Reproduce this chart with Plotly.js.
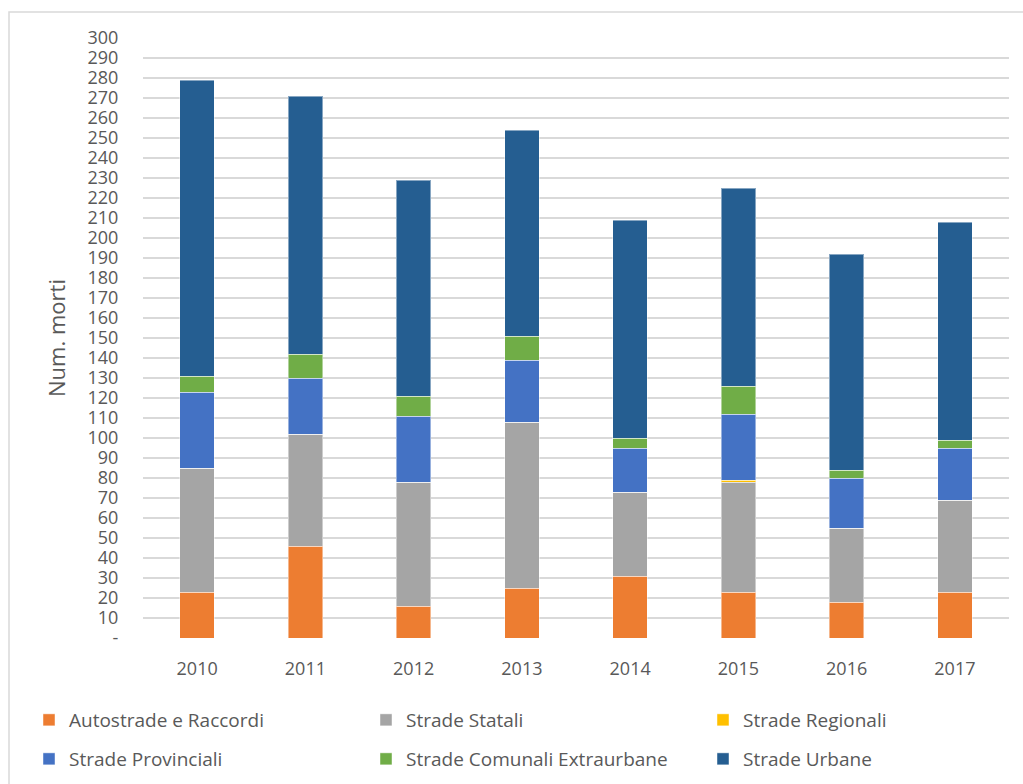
<!DOCTYPE html>
<html>
<head>
<meta charset="utf-8">
<script src="https://cdn.plot.ly/plotly-3.0.1.min.js"></script>
<style>
  html, body { margin: 0; padding: 0; background: #ffffff; }
  #chart { width: 1023px; height: 784px; }
</style>
</head>
<body>
<div id="chart"></div>
<script>
const years = ['2010', '2011', '2012', '2013', '2014', '2015', '2016', '2017'];
const autostrade = [23, 46, 16, 25, 31, 23, 18, 23];
const statali = [62, 56, 62, 83, 42, 55, 37, 46];
const regionali = [0, 0, 0, 0, 0, 1, 0, 0];
const provinciali = [38, 28, 33, 31, 22, 33, 25, 26];
const comunali = [8, 12, 10, 12, 5, 14, 4, 4];
const urbane = [148, 129, 108, 103, 109, 99, 108, 109];

const yTickVals = [0,10,20,30,40,50,60,70,80,90,100,110,120,130,140,150,160,170,180,190,200,210,220,230,240,250,260,270,280,290,300];
const yTickText = yTickVals.map(v => v === 0 ? '-' : String(v));

const seriesNames = ['Autostrade e Raccordi', 'Strade Statali', 'Strade Regionali',
                     'Strade Provinciali', 'Strade Comunali Extraurbane', 'Strade Urbane'];
const seriesValues = [autostrade, statali, regionali, provinciali, comunali, urbane];
const seriesColors = ['#ED7D31', '#A5A5A5', '#FFC000', '#4472C4', '#70AD47', '#255E91'];

const textColor = '#595959';
const fontFamily = '"Open Sans", "Noto Sans", sans-serif';

const legendIds = ['legend', 'legend2', 'legend3', 'legend4', 'legend5', 'legend6'];

const traces = seriesNames.map((name, i) => ({
  type: 'bar',
  name: name,
  x: years,
  y: seriesValues[i],
  legend: legendIds[i],
  showlegend: true,
  marker: { color: seriesColors[i], line: { color: 'rgba(255,255,255,0.45)', width: 1 } },
  hoverinfo: 'x+y+name'
}));

// plot area pixel geometry for the outer frame
const L = 143, R = 14, T = 38, B = 146;
const W = 1023 - L - R, H = 784 - T - B;
const px = x => (x - L) / W;
const py = y => (784 - B - y) / H;

const legendFont = { family: fontFamily, size: 19, color: textColor };
function legendAt(xPix, yPix) {
  return {
    visible: true,
    orientation: 'h',
    xref: 'container', yref: 'container',
    x: xPix / 1023, y: 1 - yPix / 784,
    xanchor: 'left', yanchor: 'top',
    itemwidth: 30,
    font: legendFont,
    bgcolor: 'rgba(0,0,0,0)'
  };
}
const colX = [29, 366, 703];
const rowY = [701, 740];

const layout = {
  width: 1023,
  height: 784,
  showlegend: true,
  margin: { l: L, r: R, t: T, b: B },
  paper_bgcolor: '#ffffff',
  plot_bgcolor: '#ffffff',
  barmode: 'stack',
  bargap: 0.68,
  font: { family: fontFamily, size: 17, color: textColor },
  xaxis: {
    type: 'category',
    showgrid: false,
    showline: false,
    zeroline: false,
    ticks: 'outside',
    ticklen: 14,
    tickcolor: 'rgba(0,0,0,0)',
    tickfont: { family: fontFamily, size: 18, color: textColor }
  },
  yaxis: {
    range: [0, 300],
    tickvals: yTickVals,
    ticktext: yTickText,
    showgrid: true,
    gridcolor: '#d9d9d9',
    gridwidth: 2,
    zeroline: false,
    showline: false,
    ticks: 'outside',
    ticklen: 20,
    tickcolor: 'rgba(0,0,0,0)',
    tickfont: { family: fontFamily, size: 18, color: textColor },
    title: { text: 'Num. morti', font: { family: fontFamily, size: 22, color: textColor }, standoff: 15 }
  },
  shapes: [{
    type: 'rect', xref: 'paper', yref: 'paper',
    x0: px(9), x1: px(1040), y0: py(800), y1: py(12),
    line: { color: '#d9d9d9', width: 1.5 },
    fillcolor: 'rgba(0,0,0,0)',
    layer: 'below'
  }]
};
legendIds.forEach((id, i) => {
  layout[id] = legendAt(colX[i % 3], rowY[Math.floor(i / 3)]);
});

Plotly.newPlot('chart', traces, layout, { displayModeBar: false });
</script>
</body>
</html>
